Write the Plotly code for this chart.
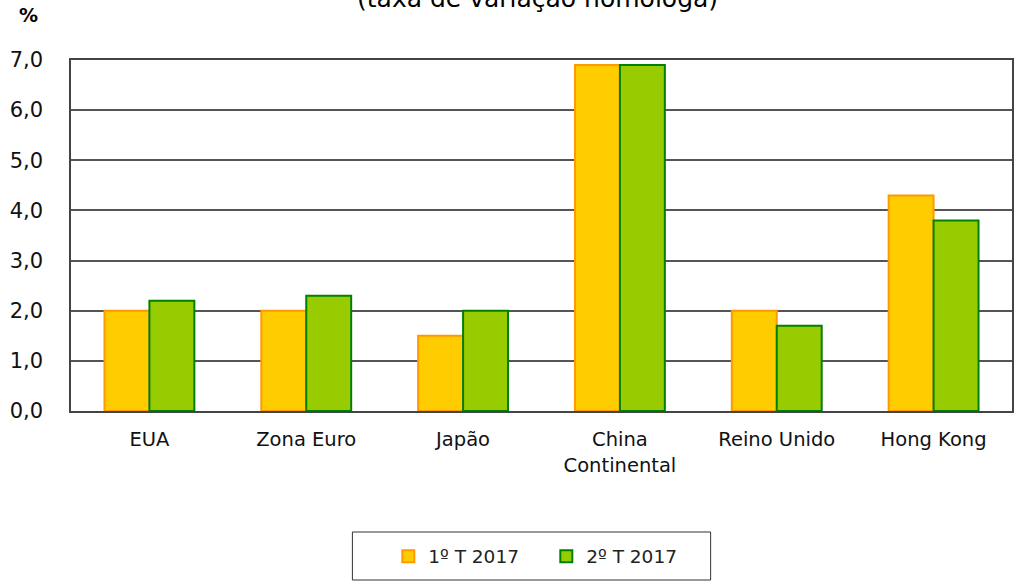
import plotly.graph_objects as go

categories = ["EUA", "Zona Euro", "Japão", "China<br>Continental", "Reino Unido", "Hong Kong"]
q1_2017 = [2.0, 2.0, 1.5, 6.9, 2.0, 4.3]
q2_2017 = [2.2, 2.3, 2.0, 6.9, 1.7, 3.8]
series_names = ["1º T 2017", "2º T 2017"]
y_ticks = [0, 1, 2, 3, 4, 5, 6, 7]

FONT = "DejaVu Sans"

fig = go.Figure()
fig.add_trace(go.Bar(x=categories, y=q1_2017, name=series_names[0],
                     marker=dict(color="#FFCC00", line=dict(color="#FF9900", width=2))))
fig.add_trace(go.Bar(x=categories, y=q2_2017, name=series_names[1],
                     marker=dict(color="#99CC00", line=dict(color="#008000", width=2))))

fig.update_layout(
    width=1015, height=581,
    margin=dict(l=71, r=1, t=60, b=170),
    paper_bgcolor="white", plot_bgcolor="white",
    separators=",.",
    barmode="group", bargap=0.427, bargroupgap=0,
    font=dict(family=FONT, size=19, color="black"),
    showlegend=True,
    legend=dict(orientation="h", x=0.3372, y=-0.415, xanchor="left", yanchor="middle",
                font=dict(family=FONT, size=18.5, color="#222"),
                entrywidth=113, traceorder="normal",
                bgcolor="rgba(0,0,0,0)", borderwidth=0),
    xaxis=dict(showline=True, linecolor="#444", linewidth=1.5, mirror=True,
               ticks="outside", ticklen=10, tickcolor="rgba(0,0,0,0)",
               tickfont=dict(family=FONT, size=19.5, color="#111")),
    yaxis=dict(range=[0, 7], tickvals=y_ticks, tickformat=".1f",
               showgrid=True, gridcolor="#555", gridwidth=1.5,
               showline=True, linecolor="#444", linewidth=1.5, mirror=True,
               ticks="outside", ticklen=22, tickcolor="rgba(0,0,0,0)",
               tickfont=dict(family=FONT, size=21, color="#111"),
               zeroline=False),
    shapes=[dict(type="rect", xref="paper", yref="paper",
                 x0=(353 - 71) / 943, x1=(712 - 71) / 943,
                 y0=(411 - 580) / 351, y1=(411 - 532) / 351,
                 line=dict(color="#333", width=1), fillcolor="rgba(0,0,0,0)")],
    annotations=[
        dict(text="<b>%</b>", xref="paper", yref="paper",
             x=(28 - 71) / 943, y=1 + (60 - 15) / 351, xanchor="center", yanchor="middle",
             showarrow=False, font=dict(family=FONT, size=19, color="black")),
        dict(text="(taxa de variação homóloga)", xref="paper", yref="paper",
             x=(538 - 71) / 943, y=1 + (60 - 15) / 351, xanchor="center", yanchor="bottom",
             showarrow=False, font=dict(family=FONT, size=25, color="black")),
    ],
)

fig.write_html("out.html", config={"displayModeBar": False},
               post_script="document.body.style.margin='0';")
